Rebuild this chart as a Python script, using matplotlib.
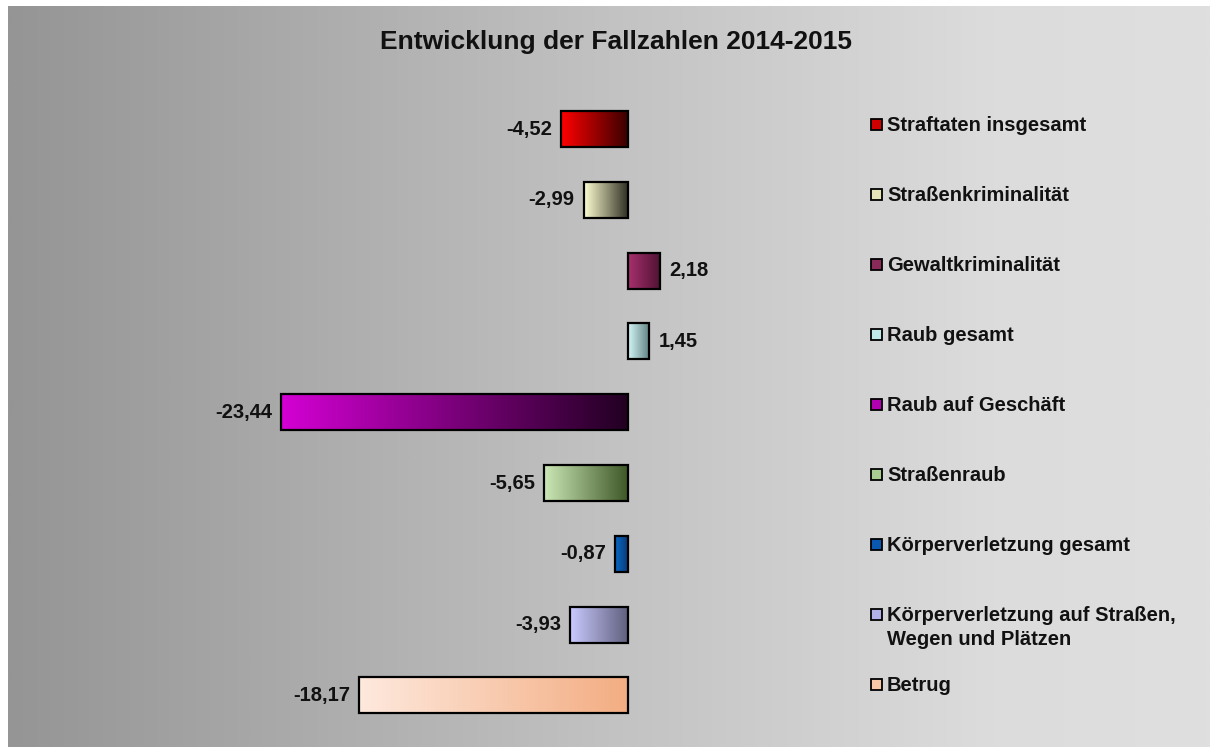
import numpy as np
import matplotlib
matplotlib.use("Agg")
import matplotlib.pyplot as plt
from matplotlib.colors import LinearSegmentedColormap
from matplotlib.patches import Rectangle

categories = [
    "Straftaten insgesamt",
    "Straßenkriminalität",
    "Gewaltkriminalität",
    "Raub gesamt",
    "Raub auf Geschäft",
    "Straßenraub",
    "Körperverletzung gesamt",
    "Körperverletzung auf Straßen,\nWegen und Plätzen",
    "Betrug",
]
values = [-4.52, -2.99, 2.18, 1.45, -23.44, -5.65, -0.87, -3.93, -18.17]
value_labels = ["-4,52", "-2,99", "2,18", "1,45", "-23,44", "-5,65", "-0,87", "-3,93", "-18,17"]
grad_left = ["#ff0000", "#ffffd2", "#a8306e", "#d4f6f6", "#d400d4", "#cbe8b6", "#0868c8", "#cacaff", "#fee9de"]
grad_right = ["#3a0000", "#2c2c20", "#4c1232", "#5e8080", "#220022", "#3e5826", "#0a3c78", "#5e5e7c", "#f3ad82"]
legend_colors = ["#d00000", "#e4e4b8", "#8a2a58", "#c0eaea", "#b000b0", "#a8cc92", "#0a58b0", "#b0b0e6", "#f8c6a8"]
title = "Entwicklung der Fallzahlen 2014-2015"

W, H = 1210, 747
fig = plt.figure(figsize=(W / 100, H / 100), dpi=100)
fig.patch.set_facecolor("white")

# background gradient
bg = fig.add_axes([8 / W, 0, 1 - 8 / W, 1 - 6 / H])
bg_cmap = LinearSegmentedColormap.from_list(
    "bg", [(0.0, "#959595"), (0.5, "#c2c2c2"), (0.82, "#dcdcdc"), (1.0, "#dfdfdf")])
bg.imshow(np.linspace(0, 1, 512)[None, :], cmap=bg_cmap, aspect="auto",
          extent=(0, 1, 0, 1), interpolation="bilinear")
bg.set_axis_off()

ax = fig.add_axes([0, 0, 1, 1])
ax.patch.set_alpha(0)
ax.set_axis_off()

x0_px, scale = 628.0, 14.8
row0_px, row_step = 129.0, 70.8
xlim = (-x0_px / scale, (W - x0_px) / scale)
ylim = ((H - row0_px) / row_step, -row0_px / row_step)

def px_x(p):
    return (p - x0_px) / scale

def px_y(p):
    return (p - row0_px) / row_step

FS = 14.5
bh = 36.0 / row_step
for i, (v, lab) in enumerate(zip(values, value_labels)):
    cmap = LinearSegmentedColormap.from_list(f"c{i}", [grad_left[i], grad_right[i]])
    left, right = min(0, v), max(0, v)
    ax.imshow(np.linspace(0, 1, 256)[None, :], cmap=cmap, aspect="auto",
              extent=(left, right, i + bh / 2, i - bh / 2), interpolation="bilinear", zorder=2)
    ax.add_patch(Rectangle((left, i - bh / 2), right - left, bh, fill=False,
                           edgecolor="black", linewidth=1.6, zorder=3))
    off = 9 / scale
    if v < 0:
        ax.text(v - off, i, lab, ha="right", va="center", fontsize=FS,
                fontweight="bold", family="Liberation Sans", color="#111111")
    else:
        ax.text(v + off, i, lab, ha="left", va="center", fontsize=FS,
                fontweight="bold", family="Liberation Sans", color="#111111")

# legend
for i, name in enumerate(categories):
    cy = 124 + 70 * i
    ax.add_patch(Rectangle((px_x(871), px_y(cy - 5.5)), 11 / scale, 11 / row_step,
                           facecolor=legend_colors[i], edgecolor="black", linewidth=1.3, zorder=3))
    for k, line in enumerate(name.split("\n")):
        ax.text(px_x(887), px_y(cy + 7 + 24 * k), line, ha="left", va="baseline", fontsize=FS,
                fontweight="bold", family="Liberation Sans", color="#111111")

ax.set_xlim(*xlim)
ax.set_ylim(*ylim)

fig.text(616 / W, 1 - 42 / H, title, ha="center", va="center", fontsize=19,
         fontweight="bold", family="Liberation Sans", color="#111111")

fig.savefig("out.png", dpi=100)
